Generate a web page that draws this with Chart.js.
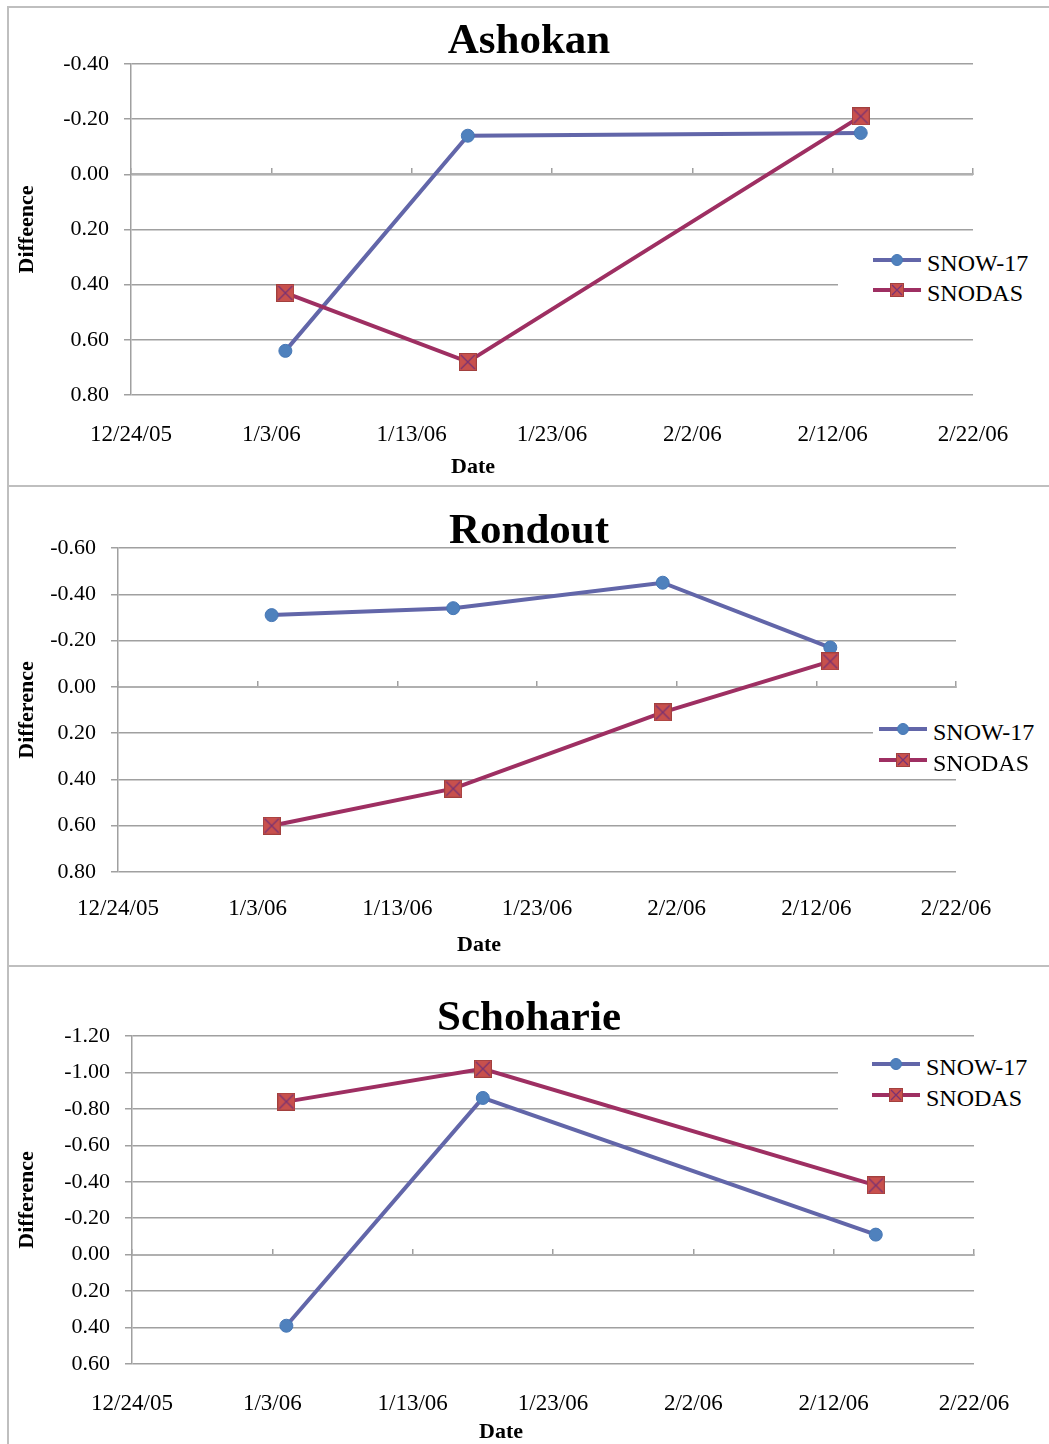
<!DOCTYPE html>
<html>
<head>
<meta charset="utf-8">
<script src="https://cdn.jsdelivr.net/npm/chart.js@4.4.1/dist/chart.umd.min.js"></script>
<style>
  html, body { margin: 0; padding: 0; background: #fff; }
  body { width: 1049px; height: 1444px; position: relative; overflow: hidden; font-family: "Liberation Serif", "DejaVu Serif", serif; }
  .panel { position: absolute; left: 7px; width: 1060px; border-left: 2px solid #bfbfbf; border-top: 2px solid #bfbfbf; box-sizing: border-box; }
  canvas { position: absolute; left: 9px; }
  .legend { position: absolute; background: #fff; }
  .litem { position: absolute; height: 30px; }
  .lline { position: absolute; left: 0; width: 48px; height: 4px; top: 13px; }
  .ltext { position: absolute; left: 54px; top: 3px; font-size: 24px; line-height: 30px; color: #000; white-space: nowrap; }
  .lmark { position: absolute; }
  .xtitle { position: absolute; font-weight: bold; font-size: 22px; color: #000; transform: translate(-50%, -50%); white-space: nowrap; }
</style>
</head>
<body>
<div class="panel" style="top:6px;height:479px;"></div>
<div class="panel" style="top:485px;height:480px;"></div>
<div class="panel" style="top:965px;height:490px;"></div>

<canvas id="c1" width="1040" height="476" style="top:8px"></canvas>
<canvas id="c2" width="1040" height="476" style="top:487px"></canvas>
<canvas id="c3" width="1040" height="477" style="top:967px"></canvas>

<div class="xtitle" style="left:473px;top:466px;">Date</div>
<div class="xtitle" style="left:479px;top:944px;">Date</div>
<div class="xtitle" style="left:501px;top:1431px;">Date</div>

<div id="lg1" class="legend" style="left:838px;top:243px;width:205px;height:66px;"></div>
<div id="lg2" class="legend" style="left:873px;top:716px;width:176px;height:60px;"></div>
<div id="lg3" class="legend" style="left:838px;top:1046px;width:205px;height:76px;"></div>

<script>
// ---------------- data ----------------
const seriesNames = ['SNOW-17', 'SNODAS'];
const xTickLabels = ['12/24/05', '1/3/06', '1/13/06', '1/23/06', '2/2/06', '2/12/06', '2/22/06'];

const ashokanDates  = ['2006-01-04', '2006-01-17', '2006-02-14'];
const ashokanSnow17 = [0.64, -0.14, -0.15];
const ashokanSnodas = [0.43, 0.68, -0.21];

const rondoutDates  = ['2006-01-04', '2006-01-17', '2006-02-01', '2006-02-13'];
const rondoutSnow17 = [-0.31, -0.34, -0.45, -0.17];
const rondoutSnodas = [0.60, 0.44, 0.11, -0.11];

const schoharieDates  = ['2006-01-04', '2006-01-18', '2006-02-15'];
const schoharieSnow17 = [0.39, -0.86, -0.11];
const schoharieSnodas = [-0.84, -1.02, -0.38];

// ---------------- styles ----------------
const DAY = 86400000;
const X_MIN = Date.UTC(2005, 11, 24);
const X_MAX = Date.UTC(2006, 1, 22);
const FONT = '"Liberation Serif", "DejaVu Serif", serif';
const GRID = '#a0a0a0';
const SNOW_LINE = '#6266a9';
const SNOW_FILL = '#4f81bd';
const SNODAS_LINE = '#9e2f62';

function squareX(size) {
  const c = document.createElement('canvas');
  c.width = size; c.height = size;
  const g = c.getContext('2d');
  g.fillStyle = '#c8504d';
  g.fillRect(0, 0, size, size);
  g.strokeStyle = '#a2403e';
  g.lineWidth = 1;
  g.strokeRect(0.5, 0.5, size - 1, size - 1);
  g.strokeStyle = '#7b3272';
  g.lineWidth = 1.3;
  g.beginPath();
  g.moveTo(2, 2); g.lineTo(size - 2, size - 2);
  g.moveTo(size - 2, 2); g.lineTo(2, size - 2);
  g.stroke();
  return c;
}
const snodasMarker = squareX(18);

function pts(dates, vals) {
  return dates.map((d, i) => ({ x: Date.parse(d), y: vals[i] }));
}

function makeChart(id, o) {
  new Chart(document.getElementById(id), {
    type: 'line',
    data: {
      datasets: [
        {
          label: seriesNames[0], data: pts(o.dates, o.snow17),
          borderColor: SNOW_LINE, borderWidth: 4, tension: 0,
          pointStyle: 'circle', pointRadius: 6.5, pointBackgroundColor: SNOW_FILL,
          pointBorderColor: '#4677b5', pointBorderWidth: 1,
          xAxisID: 'x', yAxisID: 'y', order: 1
        },
        {
          label: seriesNames[1], data: pts(o.dates, o.snodas),
          borderColor: SNODAS_LINE, borderWidth: 4, tension: 0,
          pointStyle: snodasMarker, pointRadius: 9,
          xAxisID: 'x', yAxisID: 'y', order: 0
        }
      ]
    },
    options: {
      responsive: false,
      animation: false,
      events: [],
      layout: { padding: 0 },
      plugins: {
        legend: { display: false },
        tooltip: { enabled: false },
        title: {
          display: true, text: o.title, color: '#000',
          font: { family: FONT, size: 43, weight: 'bold', lineHeight: 0.8 },
          padding: { top: o.tPadTop, bottom: o.tPadBottom }
        }
      },
      scales: {
        x: {
          type: 'linear', position: 'bottom', min: X_MIN, max: X_MAX,
          grid: { display: false }, border: { display: false },
          ticks: {
            stepSize: 10 * DAY, autoSkip: false, maxRotation: 0, minRotation: 0,
            color: '#000', font: { family: FONT, size: 23 }, padding: o.xPad,
            callback: (v, i) => xTickLabels[i]
          },
          afterFit: s => { s.height = o.bottomH; }
        },
        x0: {
          type: 'linear', position: { y: 0 }, min: X_MIN, max: X_MAX,
          ticks: { display: false, stepSize: 10 * DAY },
          grid: { drawOnChartArea: false, drawTicks: true, tickLength: -7, color: GRID, lineWidth: 1.5 },
          border: { display: true, color: '#b0b0b0', width: 2 }
        },
        y: {
          type: 'linear', position: 'left', reverse: true, min: o.yMin, max: o.yMax,
          ticks: {
            stepSize: 0.2, color: '#000', font: { family: FONT, size: 22 }, padding: 15,
            callback: v => (Math.abs(v) < 1e-9 ? 0 : v).toFixed(2)
          },
          grid: { color: GRID, lineWidth: 1.5, drawTicks: true, tickLength: 7 },
          border: { display: true, color: GRID, width: 1.5 },
          title: {
            display: true, text: o.yTitle, color: '#000',
            font: { family: FONT, size: 22, weight: 'bold' },
            padding: { top: 5, bottom: 0 }
          },
          afterFit: s => { s.width = o.leftW; }
        },
        yR: {
          type: 'linear', position: 'right', display: true,
          grid: { display: false }, border: { display: false },
          ticks: { display: false },
          afterFit: s => { s.width = o.rightW; }
        }
      }
    }
  });
}

makeChart('c1', {
  title: 'Ashokan', yTitle: 'Diffeence', dates: ashokanDates, snow17: ashokanSnow17, snodas: ashokanSnodas,
  yMin: -0.4, yMax: 0.8, leftW: 122, rightW: 76, bottomH: 89, xPad: 18, tPadTop: 16.3, tPadBottom: 5.3
});
makeChart('c2', {
  title: 'Rondout', yTitle: 'Difference', dates: rondoutDates, snow17: rondoutSnow17, snodas: rondoutSnodas,
  yMin: -0.6, yMax: 0.8, leftW: 109, rightW: 93, bottomH: 91, xPad: 15, tPadTop: 28, tPadBottom: -1.4
});
makeChart('c3', {
  title: 'Schoharie', yTitle: 'Difference', dates: schoharieDates, snow17: schoharieSnow17, snodas: schoharieSnodas,
  yMin: -1.2, yMax: 0.6, leftW: 123, rightW: 75, bottomH: 80, xPad: 18, tPadTop: 34.8, tPadBottom: -0.2
});

// ---------------- HTML legends ----------------
function buildLegend(id, offX, offY, gap) {
  const box = document.getElementById(id);
  seriesNames.forEach((name, i) => {
    const it = document.createElement('div');
    it.className = 'litem';
    it.style.left = offX + 'px';
    it.style.top = (offY + i * gap) + 'px';
    const ln = document.createElement('div');
    ln.className = 'lline';
    ln.style.background = i === 0 ? SNOW_LINE : SNODAS_LINE;
    it.appendChild(ln);
    if (i === 0) {
      const m = document.createElement('div');
      m.className = 'lmark';
      m.style.cssText = 'left:18px;top:8.5px;width:12px;height:12px;border-radius:50%;background:' + SNOW_FILL + ';border:0.5px solid #4677b5;box-sizing:border-box;';
      it.appendChild(m);
    } else {
      const m = squareX(14);
      m.className = 'lmark';
      m.style.left = '17px'; m.style.top = '8px';
      m.style.position = 'absolute';
      it.appendChild(m);
    }
    const t = document.createElement('div');
    t.className = 'ltext';
    t.textContent = name;
    it.appendChild(t);
    box.appendChild(it);
  });
}
// item top = line center - 15
buildLegend('lg1', 35, 260 - 15 - 243, 30);
buildLegend('lg2', 6, 729 - 15 - 716, 31);
buildLegend('lg3', 34, 1064 - 15 - 1046, 31);
</script>
</body>
</html>
